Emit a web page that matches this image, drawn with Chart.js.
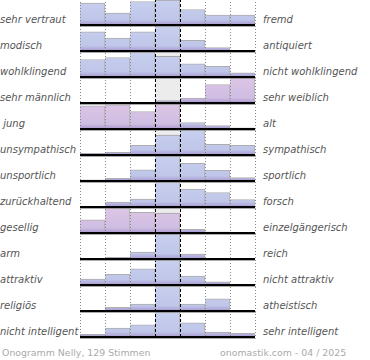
<!DOCTYPE html>
<html>
<head>
<meta charset="utf-8">
<script src="https://cdn.jsdelivr.net/npm/chart.js@4.4.1/dist/chart.umd.min.js"></script>
<style>
    body { margin: 0; width: 370px; height: 360px; position: relative; overflow: hidden; background: #fff; font-family: "DejaVu Sans", sans-serif; }
    .labels { position: absolute; top: -1px; font-style: italic; font-size: 10px; color: #555; }
    .labels div { height: 26px; box-sizing: border-box; padding-top: 15px; line-height: 12px; white-space: pre; }
    #left { left: 0; }
    #right { left: 263px; }
    #wrap { position: absolute; left: 80px; top: -1px; width: 177px; height: 341px; }
    .foot { position: absolute; top: 347px; line-height: 12px; font-size: 9.4px; color: #aaa; white-space: pre; }
</style>
</head>
<body>
<div class="labels" id="left"></div>
<div class="labels" id="right"></div>
<div id="wrap"><canvas id="onogramm"></canvas></div>
<div class="foot" style="left:2px">Onogramm Nelly, 129 Stimmen</div>
<div class="foot" style="left:220px">onomastik.com - 04 / 2025</div>

<script>
const leftLabels = ["sehr vertraut", "modisch", "wohlklingend", "sehr männlich", " jung",
    "unsympathisch", "unsportlich", "zurückhaltend", "gesellig", "arm",
    "attraktiv", "religiös", "nicht intelligent"];
const rightLabels = ["fremd", "antiquiert", "nicht wohlklingend", "sehr weiblich", "alt",
    "sympathisch", "sportlich", "forsch", "einzelgängerisch", "reich",
    "nicht attraktiv", "atheistisch", "sehr intelligent"];
const steps = ["-3", "-2", "-1", "0", "1", "2", "3"];

// share of votes per step, relative to the largest step of the row (%)
const vertraut = [88, 48, 94, 100, 62, 40, 40];
const modisch = [77, 52, 77, 100, 43, 14, 3];
const wohlklingend = [70, 78, 100, 83, 53, 43, 17];
const maennlich = [0, 0, 0, 10, 20, 74, 100];
const jung = [93, 97, 70, 100, 26, 14, 5];
const unsympathisch = [7, 11, 39, 80, 100, 43, 39];
const unsportlich = [5, 11, 45, 100, 71, 43, 14];
const zurueckhaltend = [2, 20, 32, 100, 72, 58, 30];
const gesellig = [53, 100, 83, 80, 15, 5, 2];
const arm = [0, 7, 28, 100, 20, 0, 0];
const attraktiv = [24, 43, 65, 100, 36, 13, 3];
const religioes = [3, 15, 28, 100, 28, 49, 2];
const intelligent = [11, 36, 49, 100, 57, 20, 15];

const rows = [vertraut, modisch, wohlklingend, maennlich, jung, unsympathisch, unsportlich,
    zurueckhaltend, gesellig, arm, attraktiv, religioes, intelligent];

// bars drawn in pink (row index -> step indexes)
const pinkBars = { 3: [3, 4, 5, 6], 4: [0, 1, 2, 3], 8: [0, 1, 2, 3] };

document.getElementById("left").innerHTML = leftLabels.map(t => `<div>${t}</div>`).join("");
document.getElementById("right").innerHTML = rightLabels.map(t => `<div>${t}</div>`).join("");

const ROW_FILL = 0.96;

function barFill(ctx, row) {
    const chart = ctx.chart;
    if (!chart.chartArea) return "#c4cbec";
    const y = chart.scales.y;
    const top = y.getPixelForValue(row);
    const bottom = y.getPixelForValue(row + 1);
    const pink = (pinkBars[row] || []).includes(ctx.dataIndex);
    const g = chart.ctx.createLinearGradient(0, top, 0, bottom);
    if (pink) {
        g.addColorStop(0, "#ddc6e6");
        g.addColorStop(0.8, "#cfbde2");
        g.addColorStop(1, "#a898d0");
    } else {
        g.addColorStop(0, "#c8d0ef");
        g.addColorStop(0.8, "#bfc6e9");
        g.addColorStop(1, "#a898d0");
    }
    return g;
}

const datasets = [{
    label: "neutral",
    data: rows.map((_, i) => ({ x: steps[3], y: [i, i + 1] })),
    backgroundColor: "#ececec",
    borderWidth: 0,
    order: 2,
}];

rows.forEach((values, r) => {
    datasets.push({
        label: leftLabels[r],
        data: values.map(v => [r + 1 - v / 100 * ROW_FILL, r + 1]),
        backgroundColor: ctx => barFill(ctx, r),
        borderColor: "rgba(120, 120, 120, 0.6)",
        borderWidth: { top: 1, right: 1, left: 0, bottom: 0 },
        borderSkipped: false,
        order: 1,
    });
});

const baselineShadow = {
    id: "baselineShadow",
    afterDraw(chart) {
        const { ctx, chartArea, scales } = chart;
        ctx.save();
        ctx.fillStyle = "rgba(150, 150, 150, 0.8)";
        for (let i = 1; i <= rows.length; i++) {
            const y = Math.round(scales.y.getPixelForValue(i));
            ctx.fillRect(chartArea.left, y + 1, chartArea.right - chartArea.left + 1, 1);
        }
        ctx.restore();
    },
};

new Chart(document.getElementById("onogramm"), {
    type: "bar",
    data: { labels: steps, datasets },
    options: {
        responsive: true,
        maintainAspectRatio: false,
        animation: false,
        layout: { padding: { left: 0, right: 2, top: 0, bottom: 3 } },
        datasets: { bar: { grouped: false, barPercentage: 1, categoryPercentage: 1 } },
        plugins: { legend: { display: false }, tooltip: { enabled: false } },
        scales: {
            x: {
                ticks: { display: false },
                border: {
                    display: false,
                    dash: ctx => (ctx.index === 3 || ctx.index === 4) ? [3, 2] : [1, 2],
                },
                grid: {
                    z: 1,
                    drawTicks: false,
                    lineWidth: 1,
                    color: ctx => (ctx.index === 3 || ctx.index === 4) ? "#000" : "#888",
                },
            },
            y: {
                min: 0,
                max: 13,
                reverse: true,
                ticks: { display: false, stepSize: 1 },
                border: { display: false },
                grid: {
                    z: 1,
                    drawTicks: false,
                    lineWidth: 2,
                    color: ctx => ctx.tick && ctx.tick.value === 0 ? "rgba(0,0,0,0)" : "#000",
                },
            },
        },
    },
    plugins: [baselineShadow],
});
</script>
</body>
</html>
